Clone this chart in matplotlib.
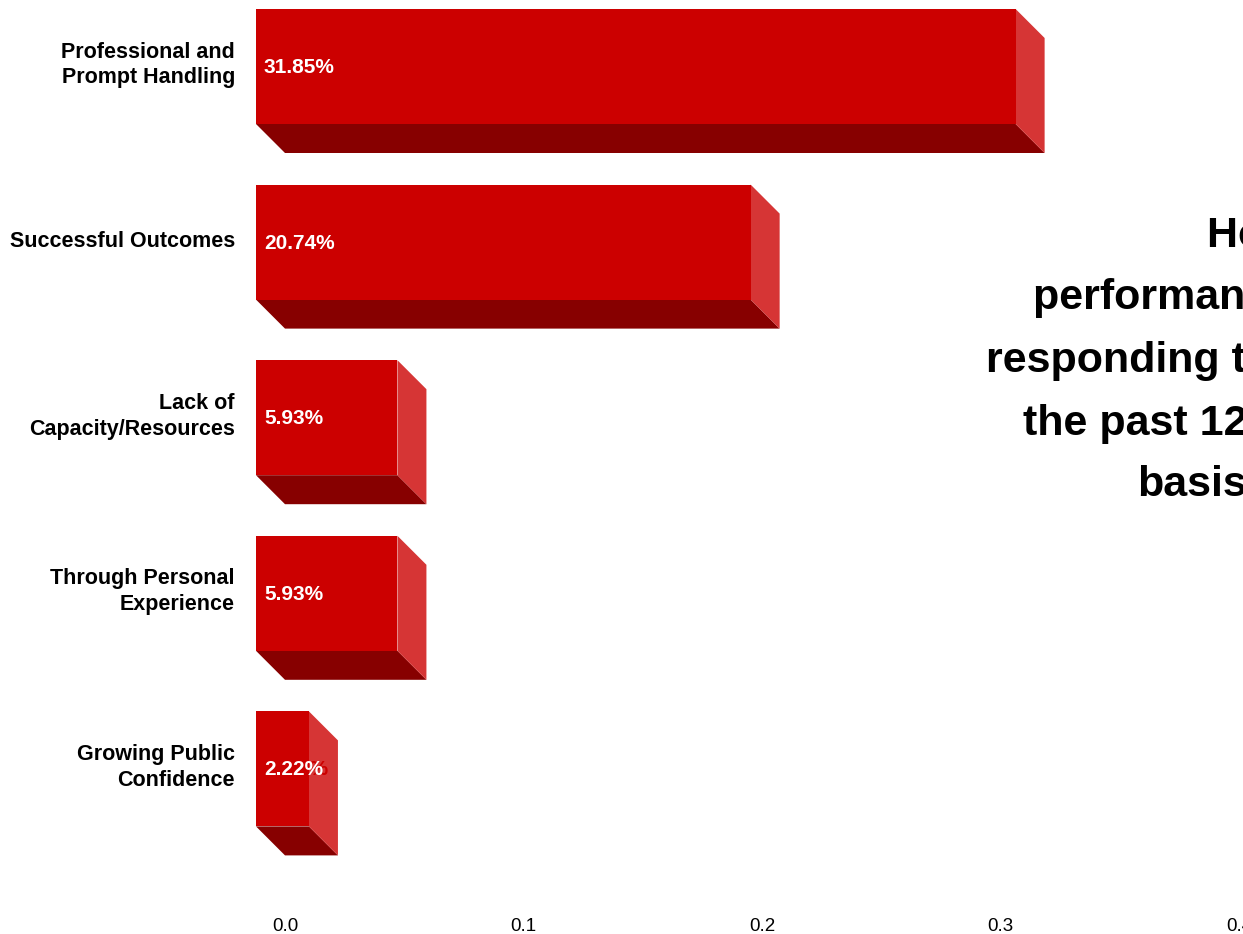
import matplotlib
matplotlib.use("Agg")
import matplotlib.pyplot as plt
from matplotlib.patches import Polygon
from matplotlib.transforms import blended_transform_factory, offset_copy

plt.rcParams['font.family'] = ['Liberation Sans', 'DejaVu Sans']

categories = ["Professional and\nPrompt Handling", "Successful Outcomes",
              "Lack of\nCapacity/Resources", "Through Personal\nExperience",
              "Growing Public\nConfidence"]
values = [0.3185, 0.2074, 0.0593, 0.0593, 0.0222]
value_labels = ["31.85%", "20.74%", "5.93%", "5.93%", "2.22%"]
tick_values = [0.0, 0.1, 0.2, 0.3, 0.4]
title_lines = ["How would you rate the",
               "performance of the police in",
               "responding to incidents over",
               "the past 12 months on a regular",
               "basis?"]

W, H = 1243, 934
fig = plt.figure(figsize=(W / 100, H / 100), dpi=100)
ax_left_px, ax_bottom_px = 256, 900
ax = fig.add_axes([ax_left_px / W, (H - ax_bottom_px) / H, 1 - ax_left_px / W, ax_bottom_px / H])

px_per_val = 2385.0
px_per_row = 175.6
row0_px = 66.5
xmax = (W - ax_left_px) / px_per_val
ax.set_xlim(0, xmax)
ax.set_ylim((ax_bottom_px - row0_px) / px_per_row, -row0_px / px_per_row)

dx = 29 / px_per_val
dy = 29 / px_per_row
h = 115 / px_per_row

front_c = "#CC0000"
side_c = "#D63535"
bottom_c = "#870000"

for i, (v, lab) in enumerate(zip(values, value_labels)):
    top, bot = i - h / 2, i + h / 2
    ax.add_patch(Polygon([(0, bot), (v, bot), (v + dx, bot + dy), (dx, bot + dy)],
                         closed=True, facecolor=bottom_c, edgecolor='none', zorder=1))
    ax.add_patch(Polygon([(v, top), (v + dx, top + dy), (v + dx, bot + dy), (v, bot)],
                         closed=True, facecolor=side_c, edgecolor='none', zorder=1))
    ax.barh(i, v, height=h, left=0, color=front_c, edgecolor='none', zorder=2)
    ax.text(13 / px_per_val, i + 1 / px_per_row, lab, color=front_c, fontsize=15,
            fontweight='bold', ha='left', va='center', zorder=3)
    ax.text(8 / px_per_val, i + 1 / px_per_row, lab, color='white', fontsize=15,
            fontweight='bold', ha='left', va='center', zorder=4)

# category labels
lab_tr = offset_copy(blended_transform_factory(ax.transAxes, ax.transData),
                     fig=fig, x=-21, y=0, units='dots')
ax.set_yticks([])
for i, cat in enumerate(categories):
    shift = 1.5 / px_per_row if "\n" in cat else 0.5 / px_per_row
    ax.text(0, i - shift, cat, transform=lab_tr, fontsize=15.5, fontweight='bold',
            ha='right', va='center', linespacing=1.3, multialignment='right')

ax.set_xticks([t + dx for t in tick_values])
ax.set_xticklabels([f"{t:.1f}" for t in tick_values], fontsize=13.5)
ax.tick_params(axis='x', length=0, pad=13)
for s in ax.spines.values():
    s.set_visible(False)

title_x = [1207, 1033, 986, 1023, 1137]
title_base = [247, 309, 372, 435, 496]
for txt, x, y in zip(title_lines, title_x, title_base):
    fig.text(x / W, 1 - y / H, txt, fontsize=31, fontweight='bold', ha='left',
             va='baseline', color='black')

fig.savefig("out.png", dpi=100)
